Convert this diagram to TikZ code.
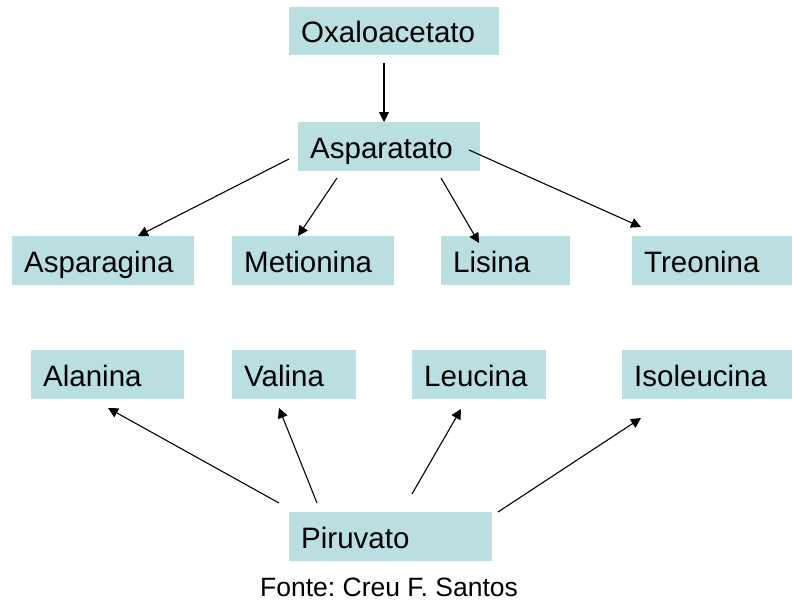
\documentclass[tikz,border=0pt]{standalone}
\usepackage{fontspec}
\setmainfont{Liberation Sans}
\usetikzlibrary{arrows.meta}
\definecolor{boxfill}{RGB}{185,223,225}
\tikzset{
  box/.style={fill=boxfill, draw=none, rectangle, anchor=north west,
    inner xsep=12pt, inner ysep=0pt, align=left,
    text height=23pt, text depth=0pt,
    font=\fontsize{29.5}{35}\selectfont},
  link/.style={draw=black, line width=1.1pt,
    -{Triangle[length=10pt,width=10pt]}},
}
\begin{document}
\frenchspacing
\begin{tikzpicture}[x=1pt,y=-1pt]
\useasboundingbox (0,0) rectangle (792,600);

% precursor and first level
\node[box, minimum width=210pt, minimum height=48pt, text width=186pt] (oxa) at (289,7) {Oxaloacetato};
\node[box, minimum width=182pt, minimum height=49pt, text width=158pt] (asp) at (298,122) {Asparatato};

% aspartate family
\node[box, minimum width=182pt, minimum height=49pt, text width=158pt] (aspg) at (12,236) {Asparagina};
\node[box, minimum width=162pt, minimum height=49pt, text width=138pt] (met) at (232,236) {Metionina};
\node[box, minimum width=129pt, minimum height=49pt, text width=105pt] (lis) at (441,236) {Lisina};
\node[box, minimum width=160pt, minimum height=49pt, text width=136pt] (tre) at (632,236) {Treonina};

% pyruvate family
\node[box, minimum width=153pt, minimum height=49pt, text width=129pt] (ala) at (31,350) {Alanina};
\node[box, minimum width=124pt, minimum height=49pt, text width=100pt] (val) at (232,350) {Valina};
\node[box, minimum width=134pt, minimum height=49pt, text width=110pt] (leu) at (412,350) {Leucina};
\node[box, minimum width=170pt, minimum height=49pt, text width=146pt] (iso) at (622,350) {Isoleucina};
\node[box, minimum width=203pt, minimum height=49pt, text width=179pt] (pir) at (289,512) {Piruvato};

\node[anchor=base west, inner sep=0pt, font=\fontsize{26.5}{32}\selectfont] (fonte) at (260,596) {Fonte: Creu F. Santos};

% arrow end points
\coordinate (oxa-o) at (384,63);   \coordinate (asp-i) at (384,122);
\coordinate (asp-o1) at (289,159); \coordinate (aspg-i) at (138,236);
\coordinate (asp-o2) at (337,178); \coordinate (met-i) at (298,236);
\coordinate (asp-o3) at (441,178); \coordinate (lis-i) at (479,243);
\coordinate (asp-o4) at (469,150); \coordinate (tre-i) at (641,227);
\coordinate (pir-o1) at (279,503); \coordinate (ala-i) at (108,408);
\coordinate (pir-o2) at (317,503); \coordinate (val-i) at (279,408);
\coordinate (pir-o3) at (412,494); \coordinate (leu-i) at (461,409);
\coordinate (pir-o4) at (498,512); \coordinate (iso-i) at (641,418);

\draw[link] (oxa-o) -- (asp-i);
\draw[link] (asp-o1) -- (aspg-i);
\draw[link] (asp-o2) -- (met-i);
\draw[link] (asp-o3) -- (lis-i);
\draw[link] (asp-o4) -- (tre-i);
\draw[link] (pir-o1) -- (ala-i);
\draw[link] (pir-o2) -- (val-i);
\draw[link] (pir-o3) -- (leu-i);
\draw[link] (pir-o4) -- (iso-i);
\end{tikzpicture}
\end{document}
